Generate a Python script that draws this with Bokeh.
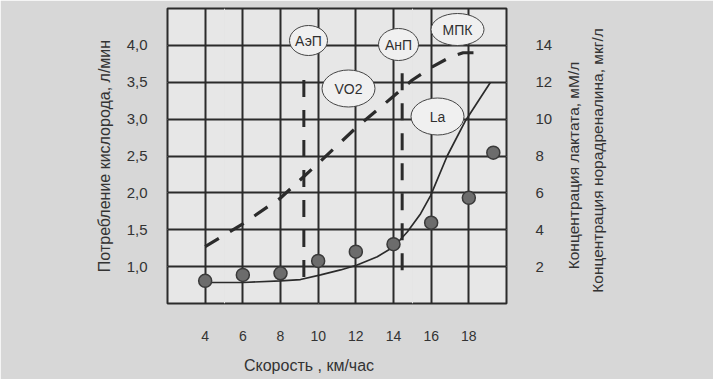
import math
from bokeh.plotting import figure
from bokeh.models import Range1d, LinearAxis, FixedTicker, Grid, Label
from bokeh.core.properties import value
from bokeh.embed import file_html
from bokeh.resources import INLINE

# ---- data ----
speed_ticks = [4, 6, 8, 10, 12, 14, 16, 18]
vo2_ticks = [1.0, 1.5, 2.0, 2.5, 3.0, 3.5, 4.0]
vo2_tick_labels = ["1,0", "1,5", "2,0", "2,5", "3,0", "3,5", "4,0"]
conc_ticks = [2, 4, 6, 8, 10, 12, 14]

# oxygen uptake (dashed line), l/min
vo2_speed = [4, 6, 8, 10, 12, 14, 15, 16, 17, 17.7, 18.5]
vo2_values = [1.27, 1.58, 1.93, 2.40, 2.88, 3.31, 3.53, 3.70, 3.84, 3.90, 3.90]

# lactate curve (solid line), mM/l
la_speed = [4, 6, 8, 9.06, 10.13, 11.19, 12.07, 13.14, 14.02, 14.73, 15.44, 15.97, 16.85, 17.83, 19.15]
la_values = [1.14, 1.14, 1.23, 1.30, 1.55, 1.82, 2.09, 2.54, 3.08, 3.88, 4.87, 5.85, 8.0, 9.93, 12.0]

# noradrenaline (points), mkg/l
na_speed = [4, 6, 8, 10, 12, 14, 16, 18, 19.3]
na_values = [1.23, 1.55, 1.64, 2.31, 2.81, 3.22, 4.38, 5.73, 8.18]

# thresholds (speed, km/h)
aep_speed = 9.24
anp_speed = 14.46

marker_texts = ["АэП", "VO2", "АнП", "МПК", "La"]
x_title = "Скорость , км/час"
left_title = "Потребление кислорода, л/мин"
right_titles = ["Концентрация лактата, мМ/л", "Концентрация норадреналина, мкг/л"]

# ---- layout ----
FONT = "Liberation Sans"
INK = "#2b2b2b"
TXT = "#333333"
W, H = 713, 379
FL, FT, FR, FB = 167, 8, 506, 303      # frame edges in pixels
X0, X1, Y0, Y1 = 2, 20, 0.5, 4.5

def px_x(px):
    return X0 + (px - FL) * (X1 - X0) / (FR - FL)

def px_y(py):
    return Y1 - (py - FT) * (Y1 - Y0) / (FB - FT)

p = figure(width=W, height=H,
           x_range=Range1d(X0, X1), y_range=Range1d(Y0, Y1),
           output_backend="svg", toolbar_location=None,
           x_axis_location=None, y_axis_location=None,
           min_border_left=FL, min_border_right=W - FR,
           min_border_top=FT, min_border_bottom=H - FB,
           background_fill_color="#e7e7e7", border_fill_color="#d7d7d7",
           outline_line_color=INK, outline_line_width=2)
p.extra_y_ranges = {"conc": Range1d(0, 16)}

p.add_layout(Grid(dimension=0, ticker=FixedTicker(ticks=speed_ticks),
                  grid_line_color=INK, grid_line_width=2))
p.add_layout(Grid(dimension=1, ticker=FixedTicker(ticks=vo2_ticks),
                  grid_line_color=INK, grid_line_width=2))

def style(ax, size):
    ax.axis_line_color = None
    ax.major_tick_in = 0
    ax.major_tick_out = 0
    ax.minor_tick_in = 0
    ax.minor_tick_out = 0
    ax.major_label_text_font = FONT
    ax.major_label_text_font_size = size
    ax.major_label_text_color = TXT
    ax.axis_label_text_font = FONT
    ax.axis_label_text_font_size = "16px"
    ax.axis_label_text_font_style = "normal"
    ax.axis_label_text_color = TXT

xaxis = LinearAxis(ticker=FixedTicker(ticks=speed_ticks))
style(xaxis, "14px")
xaxis.major_label_standoff = 27
p.add_layout(xaxis, "below")

yaxis = LinearAxis(ticker=FixedTicker(ticks=vo2_ticks),
                   major_label_overrides=dict(zip(vo2_ticks, vo2_tick_labels)),
                   axis_label=left_title)
style(yaxis, "15px")
yaxis.major_label_standoff = 20
yaxis.axis_label_standoff = 11
p.add_layout(yaxis, "left")

raxis = LinearAxis(y_range_name="conc", ticker=FixedTicker(ticks=conc_ticks))
style(raxis, "15px")
raxis.major_label_standoff = 29
p.add_layout(raxis, "right")

# axis titles placed as in the reference (in side panels so they are not clipped)
p.add_layout(Label(x=px_x(308.5), y=px_y(365), text=x_title,
                   text_font=FONT, text_font_size="16px", text_color=TXT,
                   text_align="center", text_baseline="middle"), "below")
for t, cx, cy in zip(right_titles, [573, 597], [165, 160]):
    p.add_layout(Label(x=px_x(cx), y=px_y(cy), text=t, angle=math.pi / 2,
                       text_font=FONT, text_font_size="15.5px", text_color=TXT,
                       text_align="center", text_baseline="middle"), "right")

# threshold lines
p.segment(x0=[aep_speed, anp_speed], y0=[0.86, 0.95], x1=[aep_speed, anp_speed], y1=[3.69, 3.77],
          line_color=INK, line_width=3, line_dash="17 13")

# VO2 dashed line
p.line(vo2_speed, vo2_values, line_color=INK, line_width=3.2, line_dash="16 13")

# lactate curve
p.line(la_speed, la_values, y_range_name="conc", line_color=INK, line_width=1.7)

# noradrenaline points
p.scatter(na_speed, na_values, y_range_name="conc", size=13,
          fill_color="#6c6c6c", line_color="#3a3a3a", line_width=1.5)

# labelled ellipses
lx = [px_x(v) for v in (308, 348, 398, 457, 437)]
ly = [px_y(v) for v in (40, 88, 44, 29, 116)]
lw = [38, 53, 40, 53, 53]
lh = [30, 37, 32, 32, 37]
p.ellipse(x=lx, y=ly, width=lw, height=lh, width_units="screen", height_units="screen",
          fill_color="#f0f0f0", line_color="#444444", line_width=1)
p.text(x=lx, y=ly, text=marker_texts, text_font=value(FONT), text_font_size="14px",
       text_align="center", text_baseline="middle", text_color="#303030")

open("out.html", "w").write(file_html(p, INLINE))
